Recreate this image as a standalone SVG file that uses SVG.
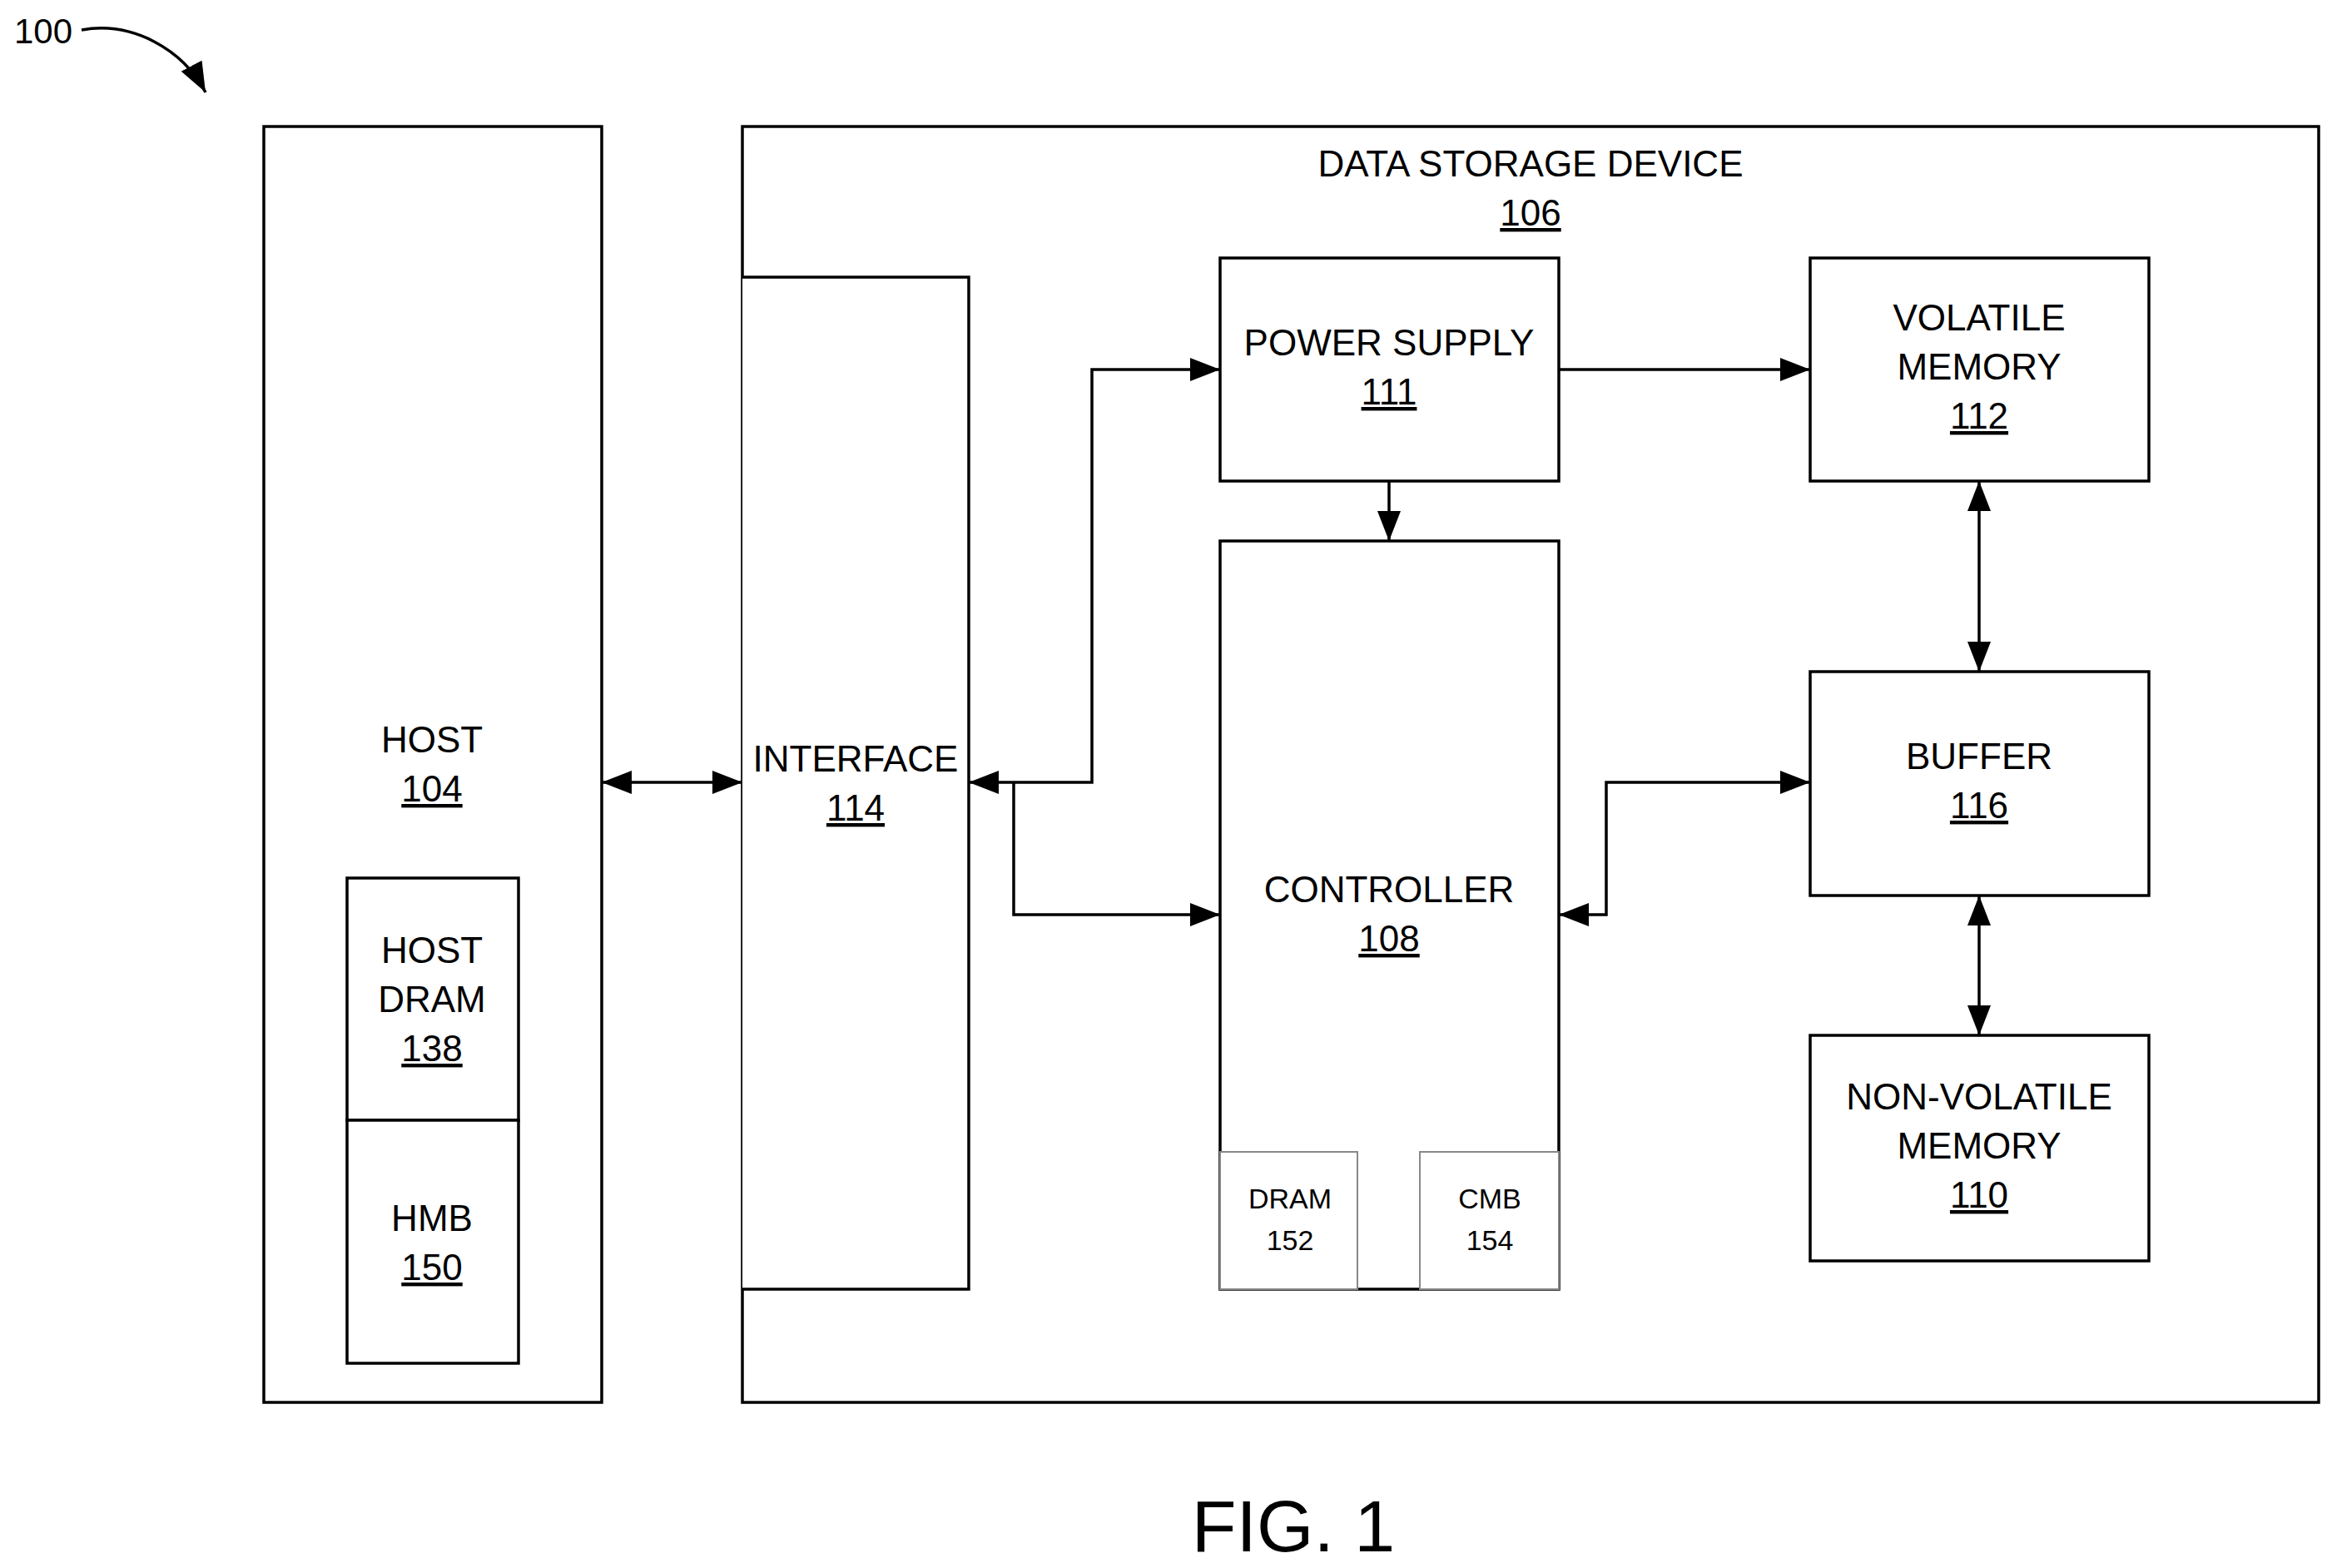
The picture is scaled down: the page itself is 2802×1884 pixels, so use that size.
<svg xmlns="http://www.w3.org/2000/svg" width="2802" height="1884" viewBox="0 0 2802 1884">
<style>
.b{fill:#fff;stroke:#000;stroke-width:3.5}
.s{fill:#fff;stroke:#888;stroke-width:2}
text{font-family:"Liberation Sans",Arial,sans-serif;font-size:44px;text-anchor:middle;fill:#000}
.u{text-decoration:underline}
.sm{font-size:34px}
.c{fill:none;stroke:#000;stroke-width:3.5}
</style>
<defs>
<marker id="a" viewBox="0 0 10 10" refX="10" refY="5" markerWidth="10" markerHeight="10" markerUnits="userSpaceOnUse" orient="auto-start-reverse"><path d="M0,0L10,5L0,10z" fill="#000" transform="scale(1)"/></marker>
<marker id="h" viewBox="0 0 10 10" refX="10" refY="5" markerWidth="36" markerHeight="28" markerUnits="userSpaceOnUse" orient="auto-start-reverse" preserveAspectRatio="none"><path d="M0,0L10,5L0,10z" fill="#000"/></marker>
</defs>
<rect width="2802" height="1884" fill="#fff"/>
<g id="n100"><text x="52" y="52" style="font-size:42px">100</text></g>
<g id="host"><rect class="b" x="317" y="152" width="406" height="1533"/><text x="519" y="904">HOST</text><text x="519" y="963" class="u">104</text></g>
<g id="hostdram"><rect class="b" x="417" y="1055" width="206" height="291"/><text x="519" y="1157">HOST</text><text x="519" y="1216">DRAM</text><text x="519" y="1275" class="u">138</text></g>
<g id="hmb"><rect class="b" x="417" y="1346" width="206" height="292"/><text x="519" y="1479">HMB</text><text x="519" y="1538" class="u">150</text></g>
<g id="dsd"><rect class="b" x="892" y="152" width="1894" height="1533"/><text x="1839" y="212">DATA STORAGE DEVICE</text><text x="1839" y="271" class="u">106</text></g>
<g id="iface"><path class="b" d="M892,333H1164V1549H892"/><text x="1028" y="927">INTERFACE</text><text x="1028" y="986" class="u">114</text></g>
<g id="ps"><rect class="b" x="1466" y="310" width="407" height="268"/><text x="1669" y="427">POWER SUPPLY</text><text x="1669" y="486" class="u">111</text></g>
<g id="vol"><rect class="b" x="2175" y="310" width="407" height="268"/><text x="2378" y="397">VOLATILE</text><text x="2378" y="456">MEMORY</text><text x="2378" y="515" class="u">112</text></g>
<g id="ctrl"><rect class="b" x="1466" y="650" width="407" height="899"/><text x="1669" y="1084">CONTROLLER</text><text x="1669" y="1143" class="u">108</text></g>
<g id="dram"><rect class="s" x="1466" y="1384" width="165" height="165"/><text class="sm" x="1550" y="1452">DRAM</text><text class="sm" x="1550" y="1502">152</text></g>
<g id="cmb"><rect class="s" x="1706" y="1384" width="167" height="165"/><text class="sm" x="1790" y="1452">CMB</text><text class="sm" x="1790" y="1502">154</text></g>
<g id="buf"><rect class="b" x="2175" y="807" width="407" height="269"/><text x="2378" y="924">BUFFER</text><text x="2378" y="983" class="u">116</text></g>
<g id="nvm"><rect class="b" x="2175" y="1244" width="407" height="271"/><text x="2378" y="1333">NON-VOLATILE</text><text x="2378" y="1392">MEMORY</text><text x="2378" y="1451" class="u">110</text></g>
<g id="connectors">
<path class="c" d="M98,36C160,25 220,60 247,111" marker-end="url(#h)"/>
<path class="c" d="M723,940H892" marker-start="url(#h)" marker-end="url(#h)"/>
<path class="c" d="M1164,940H1312V444H1466" marker-start="url(#h)" marker-end="url(#h)"/>
<path class="c" d="M1218,940V1099H1466" marker-end="url(#h)"/>
<path class="c" d="M1873,444H2175" marker-end="url(#h)"/>
<path class="c" d="M1669,578V650" marker-end="url(#h)"/>
<path class="c" d="M2378,578V807" marker-start="url(#h)" marker-end="url(#h)"/>
<path class="c" d="M2175,940H1930V1099H1873" marker-start="url(#h)" marker-end="url(#h)"/>
<path class="c" d="M2378,1076V1244" marker-start="url(#h)" marker-end="url(#h)"/>
</g>
<text x="1554" y="1864" style="font-size:88px">FIG. 1</text>
</svg>
